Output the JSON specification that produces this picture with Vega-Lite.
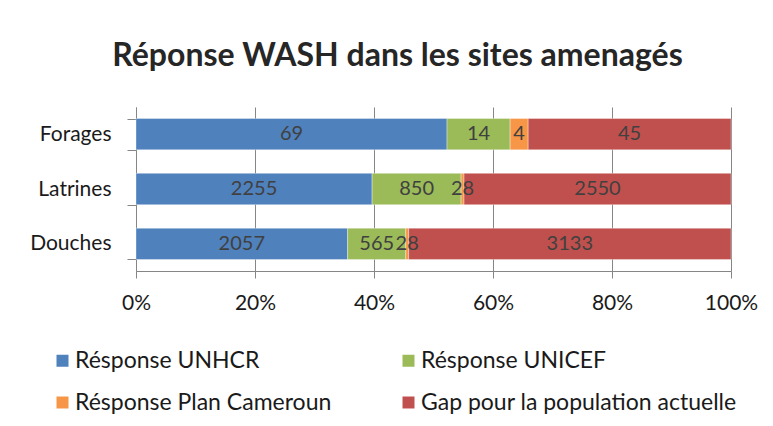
{
  "$schema": "https://vega.github.io/schema/vega-lite/v6.json",
  "width": 595,
  "height": 164,
  "autosize": {"type": "none"},
  "padding": {"left": 136, "top": 107, "right": 42, "bottom": 155},
  "background": "white",
  "title": {
    "text": "Réponse WASH dans les sites amenagés",
    "font": "Lato",
    "fontSize": 32,
    "fontWeight": "bold",
    "color": "#262626",
    "anchor": "middle",
    "dx": -36,
    "dy": 5,
    "baseline": "alphabetic",
    "offset": 3
  },
  "data": {
    "values": [
      {"categorie": "Forages", "serie": "Résponse UNHCR", "ordre": 1, "valeur": 69},
      {"categorie": "Forages", "serie": "Résponse UNICEF", "ordre": 2, "valeur": 14},
      {"categorie": "Forages", "serie": "Résponse Plan Cameroun", "ordre": 3, "valeur": 4},
      {"categorie": "Forages", "serie": "Gap pour la population actuelle", "ordre": 4, "valeur": 45},
      {"categorie": "Latrines", "serie": "Résponse UNHCR", "ordre": 1, "valeur": 2255},
      {"categorie": "Latrines", "serie": "Résponse UNICEF", "ordre": 2, "valeur": 850},
      {"categorie": "Latrines", "serie": "Résponse Plan Cameroun", "ordre": 3, "valeur": 28},
      {"categorie": "Latrines", "serie": "Gap pour la population actuelle", "ordre": 4, "valeur": 2550},
      {"categorie": "Douches", "serie": "Résponse UNHCR", "ordre": 1, "valeur": 2057},
      {"categorie": "Douches", "serie": "Résponse UNICEF", "ordre": 2, "valeur": 565},
      {"categorie": "Douches", "serie": "Résponse Plan Cameroun", "ordre": 3, "valeur": 28},
      {"categorie": "Douches", "serie": "Gap pour la population actuelle", "ordre": 4, "valeur": 3133}
    ]
  },
  "encoding": {
    "y": {
      "field": "categorie",
      "type": "nominal",
      "sort": ["Forages", "Latrines", "Douches"],
      "scale": {"paddingInner": 0.43, "paddingOuter": 0.21},
      "axis": {
        "title": null,
        "tickBand": "extent",
        "tickSize": 9,
        "labelPadding": 16,
        "labelFont": "Lato",
        "labelFontSize": 21,
        "labelColor": "#1a1a1a",
        "domainColor": "#868686",
        "tickColor": "#868686",
        "grid": false
      }
    }
  },
  "layer": [
    {
      "mark": {"type": "bar", "stroke": "#ffffff", "strokeOpacity": 0.35, "strokeWidth": 1},
      "encoding": {
        "x": {
          "field": "valeur",
          "type": "quantitative",
          "stack": "normalize",
          "scale": {"domain": [0, 1]},
          "axis": {
            "title": null,
            "values": [0, 0.2, 0.4, 0.6, 0.8, 1],
            "format": ".0%",
            "grid": true,
            "gridColor": "#868686",
            "domainColor": "#868686",
            "tickColor": "#868686",
            "tickSize": 7,
            "labelPadding": 14,
            "labelFlush": false,
            "labelFont": "Lato",
            "labelFontSize": 21,
            "labelColor": "#1a1a1a"
          }
        },
        "color": {
          "field": "serie",
          "type": "nominal",
          "scale": {
            "domain": ["Résponse UNHCR", "Résponse UNICEF", "Résponse Plan Cameroun", "Gap pour la population actuelle"],
            "range": ["#4F81BD", "#9BBB59", "#F79646", "#C0504D"]
          },
          "legend": {
            "title": null,
            "orient": "none",
            "legendX": -85,
            "legendY": 242,
            "padding": 0,
            "direction": "horizontal",
            "columns": 2,
            "columnPadding": 65,
            "rowPadding": 18,
            "symbolType": "square",
            "symbolSize": 144,
            "symbolStrokeWidth": 0,
            "labelFont": "Lato",
            "labelFontSize": 23,
            "labelColor": "#1a1a1a",
            "labelLimit": 400,
            "labelOffset": 1
          }
        },
        "order": {"field": "ordre", "type": "quantitative"}
      }
    },
    {
      "transform": [
        {"stack": "valeur", "groupby": ["categorie"], "sort": [{"field": "ordre", "order": "ascending"}], "offset": "normalize", "as": ["x0", "x1"]},
        {"fold": ["x0", "x1"], "as": ["bord", "pos"]},
        {"aggregate": [{"op": "mean", "field": "pos", "as": "milieu"}], "groupby": ["categorie", "serie", "valeur", "ordre"]}
      ],
      "mark": {"type": "text", "font": "Lato", "fontSize": 20, "color": "#404040", "baseline": "middle", "align": "center"},
      "encoding": {
        "x": {"field": "milieu", "type": "quantitative"},
        "text": {"field": "valeur", "type": "quantitative", "format": "d"}
      }
    }
  ],
  "config": {
    "view": {"stroke": null}
  }
}
